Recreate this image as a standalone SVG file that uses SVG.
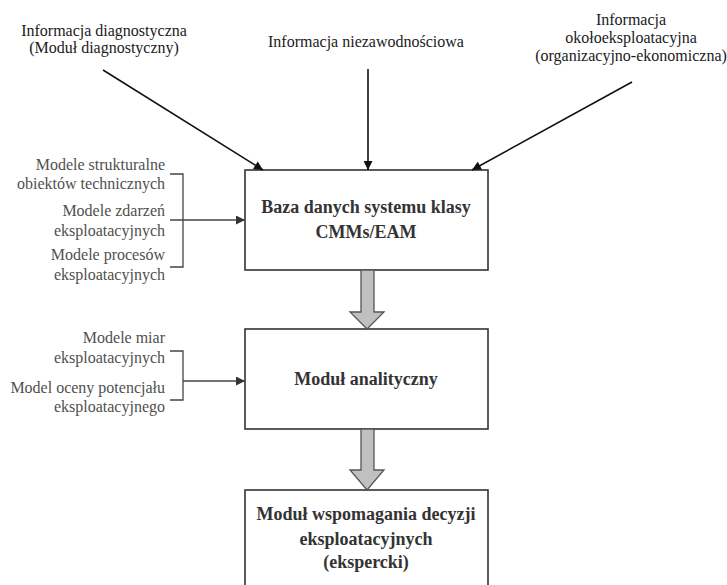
<svg xmlns="http://www.w3.org/2000/svg" width="727" height="585" viewBox="0 0 727 585">
<style>
text{font-family:"Liberation Serif","Times New Roman",serif;}
.top{font-size:16px;fill:#1a1a1a;text-anchor:middle;}
.side{font-size:16px;fill:#505050;text-anchor:end;}
.box{fill:#fff;stroke:#333;stroke-width:1.6;}
.bt{font-size:18px;font-weight:bold;fill:#333;text-anchor:middle;}
.ln{stroke:#111;stroke-width:1.6;fill:none;}
.br{stroke:#444;stroke-width:1.3;fill:none;}
.blk{fill:#c0c0c0;stroke:#555;stroke-width:1.3;}
</style>
<defs>
<marker id="ah" viewBox="0 0 10 10" refX="10" refY="5" markerWidth="10" markerHeight="9" markerUnits="userSpaceOnUse" orient="auto"><path d="M0,0 L10,5 L0,10 z" fill="#111"/></marker>
<marker id="ah2" viewBox="0 0 10 10" refX="10" refY="5" markerWidth="10" markerHeight="9" markerUnits="userSpaceOnUse" orient="auto"><path d="M0,0 L10,5 L0,10 z" fill="#333"/></marker>
</defs>
<g id="label-diag">
<text class="top" x="104" y="36">Informacja diagnostyczna</text>
<text class="top" x="104" y="53">(Moduł diagnostyczny)</text>
</g>
<g id="label-niez">
<text class="top" x="366" y="47">Informacja niezawodnościowa</text>
</g>
<g id="label-okolo">
<text class="top" x="631" y="25">Informacja</text>
<text class="top" x="631" y="43">okołoeksploatacyjna</text>
<text class="top" x="631" y="61">(organizacyjno-ekonomiczna)</text>
</g>
<g id="models-1">
<text class="side" x="165" y="170">Modele strukturalne</text>
<text class="side" x="165" y="189">obiektów technicznych</text>
<text class="side" x="165" y="216">Modele zdarzeń</text>
<text class="side" x="165" y="236">eksploatacyjnych</text>
<text class="side" x="165" y="260">Modele procesów</text>
<text class="side" x="165" y="280">eksploatacyjnych</text>
<path class="br" d="M170,174 H183 V267 H170"/>
</g>
<g id="models-2">
<text class="side" x="165" y="343">Modele miar</text>
<text class="side" x="165" y="363">eksploatacyjnych</text>
<text class="side" x="165" y="393">Model oceny potencjału</text>
<text class="side" x="165" y="412">eksploatacyjnego</text>
<path class="br" d="M170,351 H183 V400 H170"/>
</g>
<g id="node-baza">
<rect class="box" x="245" y="170" width="243" height="100"/>
<text class="bt" x="366" y="213">Baza danych systemu klasy</text>
<text class="bt" x="366" y="238">CMMs/EAM</text>
</g>
<g id="node-analityczny">
<rect class="box" x="245" y="329" width="243" height="100"/>
<text class="bt" x="366" y="385">Moduł analityczny</text>
</g>
<g id="node-wspomagania">
<rect class="box" x="245" y="490" width="243" height="110"/>
<text class="bt" x="366" y="520">Moduł wspomagania decyzji</text>
<text class="bt" x="366" y="545">eksploatacyjnych</text>
<text class="bt" x="366" y="568">(ekspercki)</text>
</g>
<g id="connectors">
<line class="ln" x1="103" y1="70" x2="263" y2="170" marker-end="url(#ah)"/>
<line class="ln" x1="368" y1="69" x2="368" y2="170" marker-end="url(#ah)"/>
<line class="ln" x1="632" y1="82" x2="472" y2="170" marker-end="url(#ah)"/>
<line class="br" x1="170" y1="220" x2="245" y2="220" marker-end="url(#ah2)"/>
<line class="br" x1="183" y1="381" x2="245" y2="381" marker-end="url(#ah2)"/>
<path class="blk" d="M361,270 H374 V312 H384 L367,329 L350,312 H361 Z"/>
<path class="blk" d="M361,429 H374 V470 H384 L367,490 L350,470 H361 Z"/>
</g>
</svg>
